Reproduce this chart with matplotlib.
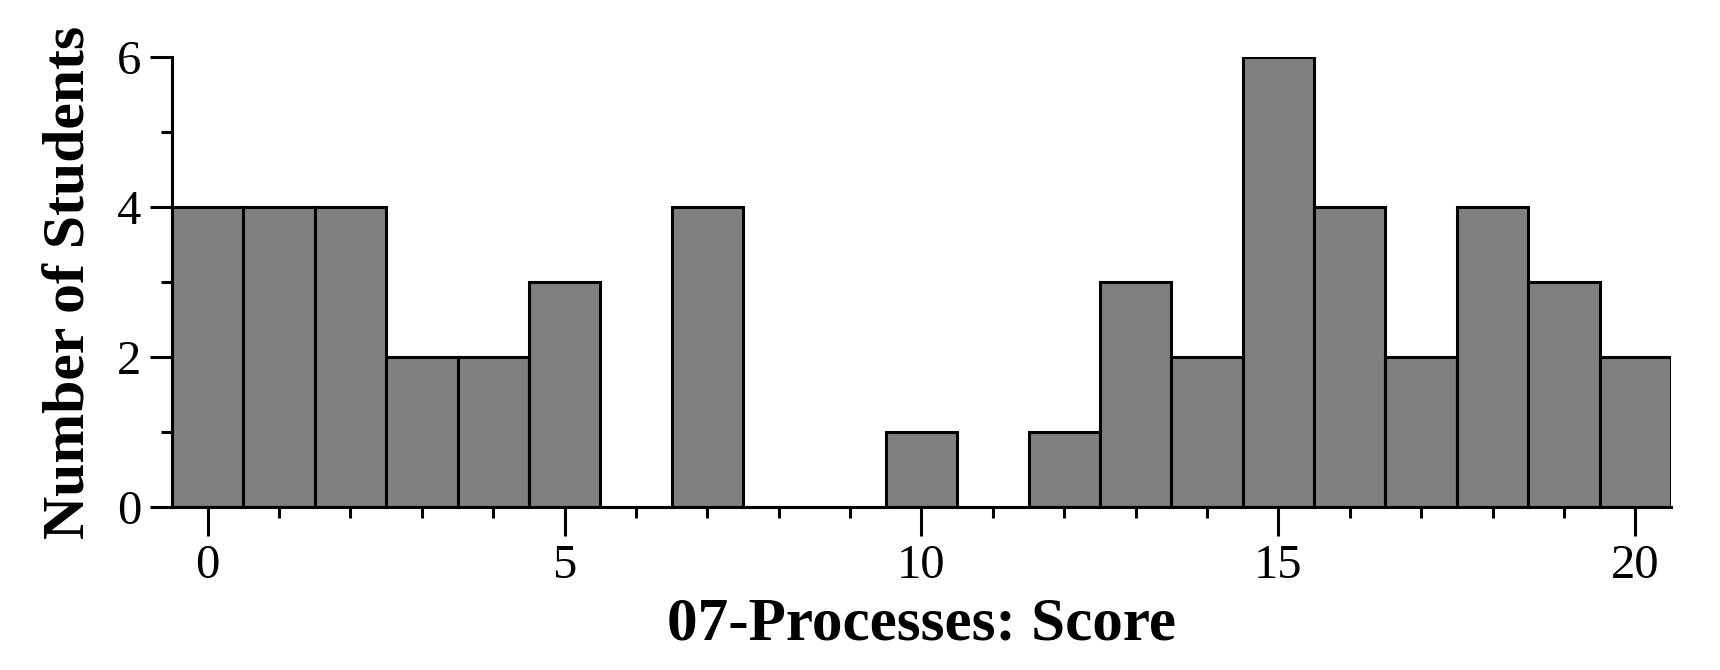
import matplotlib
matplotlib.use("Agg")
import matplotlib.pyplot as plt
from matplotlib.ticker import MultipleLocator

plt.rcParams.update({
    "font.family": "Liberation Serif",
    "font.size": 35,
    "axes.spines.top": False,
    "axes.spines.right": False,
})

scores = list(range(21))
counts = [4, 4, 4, 2, 2, 3, 0, 4, 0, 0, 1, 0, 1, 3, 2, 6, 4, 2, 4, 3, 2]

fig = plt.figure(figsize=(17.2, 6.7), dpi=100)
ax = fig.add_axes([0.1, 0.2433, 0.8715, 0.6717])

ax.bar(scores, counts, width=1.0, color="#808080", edgecolor="black", linewidth=2.2)

ax.set_xlim(-0.5, 20.5)
ax.set_ylim(0, 6)
ax.xaxis.set_major_locator(MultipleLocator(5))
ax.xaxis.set_minor_locator(MultipleLocator(1))
ax.yaxis.set_major_locator(MultipleLocator(2))
ax.yaxis.set_minor_locator(MultipleLocator(1))

for side in ("left", "bottom"):
    ax.spines[side].set_linewidth(2.2)
ax.tick_params(which="major", direction="out", width=2.2, length=16, pad=6)
ax.tick_params(axis="x", which="major", length=21)
ax.tick_params(which="minor", direction="out", width=2.2, length=8)

ax.set_xlabel("07-Processes: Score", fontsize=44, fontweight="bold", labelpad=6)
ax.set_ylabel("Number of Students", fontsize=43, fontweight="bold", labelpad=14)

fig.savefig("out.png", dpi=100)
